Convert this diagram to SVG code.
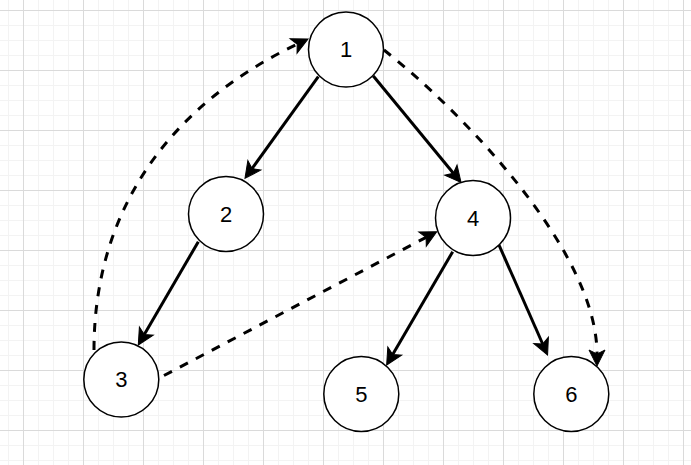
<svg xmlns="http://www.w3.org/2000/svg" width="691" height="465" viewBox="0 0 691 465">
  <style>
    .node circle { fill: #ffffff; stroke: #000000; stroke-width: 1.5; }
    .node text { font-family: "Liberation Sans", Arial, Helvetica, sans-serif; font-size: 22px; fill: #000000; text-anchor: middle; }
    .edge { fill: none; stroke: #000000; stroke-width: 3; }
    .solid { marker-end: url(#arrow); }
    .dashed { stroke-dasharray: 9 9; marker-end: url(#arrow); }
  </style>
  <defs>
    <pattern id="grid" patternUnits="userSpaceOnUse" x="23" y="10" width="60" height="60">
      <rect width="60" height="60" fill="#ffffff"/>
      <path d="M 15.5 0 V 60 M 30.5 0 V 60 M 45.5 0 V 60 M 0 15.5 H 60 M 0 30.5 H 60 M 0 45.5 H 60" stroke="#f3f3f3" stroke-width="1" fill="none" shape-rendering="crispEdges"/>
      <path d="M 0.5 0 V 60 M 0 0.5 H 60" stroke="#dadada" stroke-width="1" fill="none" shape-rendering="crispEdges"/>
    </pattern>
    <marker id="arrow" markerUnits="userSpaceOnUse" markerWidth="40" markerHeight="40" viewBox="-20 -20 40 40" refX="0" refY="0" orient="auto" overflow="visible">
      <path d="M 12 0 L -4 -8 L 0 0 L -4 8 Z" fill="#000000" stroke="#000000" stroke-width="1" stroke-linejoin="miter"/>
    </marker>
  </defs>
  <rect x="0" y="0" width="691" height="465" fill="url(#grid)"/>

  <g id="connectors">
    <path class="edge solid" d="M 318.3 76.7 L 252 168.6"/>
    <path class="edge solid" d="M 373.3 76 L 453.4 173.2"/>
    <path class="edge solid" d="M 198.3 241.7 L 144.3 334.6"/>
    <path class="edge solid" d="M 452.7 251.7 L 392.7 354.6"/>
    <path class="edge solid" d="M 499 245 L 542.7 344"/>
    <path class="edge dashed" d="M 164 375.5 L 426.1 237.3"/>
    <path class="edge dashed" d="M 94 350 C 94 200 180 100 297.2 44.2"/>
    <path class="edge dashed" d="M 384 50 C 460 110 597 250 597 354"/>
  </g>

  <g id="node1" class="node"><circle cx="346" cy="49.5" r="37.5"/><text x="346" y="57.4">1</text></g>
  <g id="node2" class="node"><circle cx="226" cy="214" r="37.5"/><text x="226" y="221.9">2</text></g>
  <g id="node4" class="node"><circle cx="473" cy="218" r="37.5"/><text x="473" y="225.9">4</text></g>
  <g id="node3" class="node"><circle cx="121.3" cy="379.5" r="37.5"/><text x="121.3" y="387.4">3</text></g>
  <g id="node5" class="node"><circle cx="361.3" cy="394" r="37.5"/><text x="361.3" y="401.9">5</text></g>
  <g id="node6" class="node"><circle cx="571.3" cy="394" r="37.5"/><text x="571.3" y="401.9">6</text></g>
</svg>
